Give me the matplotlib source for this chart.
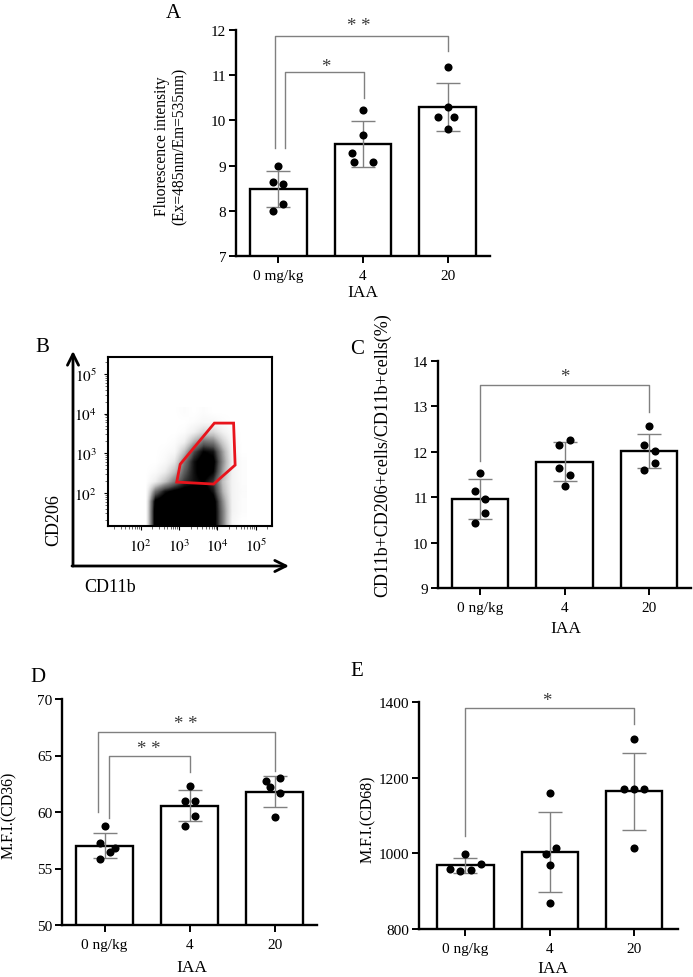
import matplotlib
matplotlib.use('Agg')
import matplotlib.pyplot as plt
from matplotlib.patches import Polygon
import numpy as np

plt.rcParams['font.family'] = ['Liberation Serif', 'DejaVu Serif']
plt.rcParams['mathtext.fontset'] = 'stix'

# ---------------- data ----------------
categories_a = ['0 mg/kg', '4', '20']
categories = ['0 ng/kg', '4', '20']

# Panel A: fluorescence intensity
a_means = [8.49, 9.48, 10.29]
a_sd = [0.40, 0.50, 0.53]
a_points = [[9.00, 8.63, 8.60, 8.15, 7.99],
            [10.24, 9.68, 9.27, 9.07, 9.07],
            [11.18, 10.29, 10.07, 10.07, 9.81]]

# Panel C: CD11b+CD206+ / CD11b+ (%)
c_means = [10.96, 11.78, 12.02]
c_sd = [0.43, 0.43, 0.37]
c_points = [[11.53, 11.13, 10.95, 10.66, 10.43],
            [12.14, 12.25, 11.64, 11.50, 11.24],
            [12.56, 12.16, 12.01, 11.76, 11.59]]

# Panel D: M.F.I. (CD36)
d_means = [57.02, 60.56, 61.80]
d_sd = [1.10, 1.40, 1.37]
d_points = [[58.79, 57.23, 56.81, 56.46, 55.84],
            [62.33, 61.00, 61.00, 59.68, 58.79],
            [62.70, 63.00, 62.18, 61.65, 59.59]]

# Panel E: M.F.I. (CD68)
e_means = [968, 1003, 1164]
e_sd = [20, 105, 102]
e_points = [[998, 959, 952, 957, 972],
            [1160, 997, 1014, 968, 868],
            [1303, 1169, 1169, 1171, 1015]]

# Panel B: flow cytometry event density (log10 units), rows bottom -> top
b_x_range = [2.0, 4.75]
b_y_range = [1.15, 4.15]
b_density = [
    [0, 0.95, 1, 1, 1, 1, 1, 0.95, 0.50, 0.06, 0],
    [0, 0.95, 1, 1, 1, 1, 1, 0.95, 0.50, 0.08, 0.02],
    [0, 0.90, 1, 1, 1, 1, 1, 0.95, 0.45, 0.08, 0.02],
    [0, 0.55, 0.80, 0.90, 0.95, 0.95, 0.95, 0.80, 0.35, 0.08, 0.03],
    [0, 0.12, 0.30, 0.50, 0.70, 0.80, 0.85, 0.70, 0.30, 0.08, 0.02],
    [0, 0.03, 0.12, 0.30, 0.60, 0.80, 0.95, 0.85, 0.40, 0.08, 0.02],
    [0, 0, 0.04, 0.15, 0.50, 0.80, 0.95, 0.90, 0.45, 0.10, 0.02],
    [0, 0, 0.02, 0.05, 0.30, 0.65, 0.85, 0.80, 0.40, 0.08, 0],
    [0, 0, 0, 0.02, 0.10, 0.35, 0.55, 0.50, 0.25, 0.05, 0],
    [0, 0, 0, 0, 0.02, 0.10, 0.22, 0.22, 0.10, 0.02, 0],
    [0, 0, 0, 0, 0, 0.02, 0.05, 0.05, 0.02, 0, 0],
    [0, 0, 0, 0, 0.02, 0, 0.02, 0, 0, 0, 0],
]
b_gate_x = [3.03, 3.92, 4.42, 4.46, 3.90, 2.94]
b_gate_y = [2.72, 3.76, 3.76, 2.70, 2.22, 2.27]
b_ticks = [2, 3, 4, 5]
b_tick_labels = [r'$10^{2}$', r'$10^{3}$', r'$10^{4}$', r'$10^{5}$']

# ---------------- style / layout ----------------
W, H = 693, 978
fig = plt.figure(figsize=(W / 100, H / 100), dpi=100)


def rect(l, t, r, b):
    return [l / W, 1 - b / H, (r - l) / W, (b - t) / H]


jit_a = [[0, -0.06, 0.06, 0.06, -0.065], [0, 0, -0.125, -0.11, 0.12], [0, 0, -0.12, 0.07, 0]]
jit_c = [[0, -0.067, 0.06, 0.06, -0.06], [-0.06, 0.06, -0.06, 0.06, 0], [0, -0.06, 0.07, 0.07, -0.06]]
jit_d = [[0, -0.05, 0.12, 0.07, -0.05], [0, -0.05, 0.07, 0.07, -0.05], [-0.1, 0.07, -0.05, 0.07, 0]]
jit_e = [[0, -0.18, -0.06, 0.07, 0.19], [0, -0.05, 0.07, 0, 0], [0, -0.12, 0, 0.12, 0]]

GRAY = '#808080'


def bar_panel(rect_, means, sd, points, jit, ylim, yticks, cats, xlim=(-0.5, 2.5)):
    ax = fig.add_axes(rect_)
    x = np.arange(len(means))
    ax.bar(x, means, width=0.67, color='white', edgecolor='black', linewidth=1.7, zorder=2)
    ax.errorbar(x, means, yerr=sd, fmt='none', ecolor=GRAY, elinewidth=1.0,
                capsize=8.5, capthick=1.0, zorder=3)
    for i, pts in enumerate(points):
        ax.scatter(i + np.array(jit[i]), pts, s=34, color='black', zorder=4, linewidths=0)
    ax.set_xlim(*xlim)
    ax.set_ylim(*ylim)
    ax.set_yticks(yticks)
    ax.set_xticks(x)
    ax.set_xticklabels(cats)
    for s in ['top', 'right']:
        ax.spines[s].set_visible(False)
    for s in ['left', 'bottom']:
        ax.spines[s].set_linewidth(1.7)
    ax.tick_params(axis='both', direction='out', length=5, width=1.4, labelsize=11)
    ax.tick_params(axis='x', pad=4.5)
    ax.tick_params(axis='y', pad=2)
    ax.patch.set_visible(False)
    return ax


def bracket(ax, xl, xr, ytop, yl, yr, label, lx, ly, fs=13.5):
    ax.plot([xl, xl, xr, xr], [yl, ytop, ytop, yr], color=GRAY, lw=1.0, clip_on=False, zorder=5)
    ax.text(lx, ly, label, ha='center', va='center', fontsize=fs, color='#3a3a3a', clip_on=False)


# Panel A
axA = bar_panel(rect(236, 31, 490, 257), a_means, a_sd, a_points, jit_a, (7, 12),
                [7, 8, 9, 10, 11, 12], categories_a)
bracket(axA, -0.04, 2.0, 11.87, 9.4, 11.54, '* *', 0.95, 12.1)
bracket(axA, 0.08, 1.01, 11.06, 9.4, 10.5, '*', 0.56, 11.2)

# Panel C
axC = bar_panel(rect(438, 362, 691, 589), c_means, c_sd, c_points, jit_c, (9, 14),
                [9, 10, 11, 12, 13, 14], categories)
bracket(axC, 0.0, 2.0, 13.48, 11.79, 12.88, '*', 1.0, 13.66)

# Panel D
axD = bar_panel(rect(62, 700, 317, 926), d_means, d_sd, d_points, jit_d, (50, 70),
                [50, 55, 60, 65, 70], categories)
bracket(axD, -0.08, 2.0, 67.1, 60.03, 63.66, '* *', 0.95, 67.8)
bracket(axD, 0.05, 1.0, 65.0, 59.5, 63.5, '* *', 0.52, 65.65)

# Panel E
axE = bar_panel(rect(419, 703, 678, 930), e_means, e_sd, e_points, jit_e, (800, 1400),
                [800, 1000, 1200, 1400], categories, xlim=(-0.55, 2.52))
bracket(axE, 0.0, 2.0, 1384, 1045, 1343, '*', 0.97, 1403)

# Panel B
axB = fig.add_axes(rect(108, 358, 272, 527))
axB.imshow(np.array(b_density), extent=(b_x_range[0], b_x_range[1], b_y_range[0], b_y_range[1]),
           origin='lower', cmap='Greys', vmin=0, vmax=0.85, interpolation='bilinear',
           aspect='auto', zorder=1)
axB.add_patch(Polygon(list(zip(b_gate_x, b_gate_y)), closed=True, fill=False,
                      edgecolor='#e8141c', lw=2.0, zorder=3))
axB.set_xlim(1.15, 5.42)
axB.set_ylim(1.16, 5.43)
axB.set_xticks(b_ticks)
axB.set_xticklabels(b_tick_labels)
axB.set_yticks(b_ticks)
axB.set_yticklabels(b_tick_labels)
minors = [d + np.log10(k) for d in [1, 2, 3, 4, 5] for k in range(2, 10)]
axB.set_xticks([m for m in minors if 1.15 < m < 5.42], minor=True)
axB.set_yticks([m for m in minors if 1.16 < m < 5.43], minor=True)
axB.tick_params(axis='both', which='major', direction='out', length=3, width=0.8,
                labelsize=11, pad=5)
axB.tick_params(axis='both', which='minor', direction='out', length=2, width=0.6, color='#555555')
for s in axB.spines.values():
    s.set_linewidth(1.5)

# Overlay for figure-level annotations (pixel coordinates)
ov = fig.add_axes([0, 0, 1, 1])
ov.set_xlim(0, W)
ov.set_ylim(H, 0)
ov.axis('off')
ov.patch.set_visible(False)

ov.annotate('', xy=(73, 352), xytext=(73, 567),
            arrowprops=dict(arrowstyle='->', lw=2, color='black', mutation_scale=20,
                            shrinkA=0, shrinkB=0))
ov.annotate('', xy=(289, 567), xytext=(72, 567),
            arrowprops=dict(arrowstyle='->', lw=2, color='black', mutation_scale=20,
                            shrinkA=0, shrinkB=0))
ov.text(54, 520, 'CD206', rotation=90, ha='center', va='center', fontsize=13)
ov.text(110, 587, 'CD11b', ha='center', va='center', fontsize=13)

# Panel letters
for lab, (px, py) in {'A': (173, 13), 'B': (42, 348), 'C': (357, 350),
                      'D': (38, 677), 'E': (357, 672)}.items():
    ov.text(px, py, lab, ha='center', va='center', fontsize=15)

# Axis titles
ov.text(171, 146, 'Fluorescence intensity\n(Ex=485nm/Em=535nm)', rotation=90,
        ha='center', va='center', fontsize=11.2, linespacing=1.1)
ov.text(383, 455, 'CD11b+CD206+cells/CD11b+cells(%)', rotation=90,
        ha='center', va='center', fontsize=13)
ov.text(9, 815, 'M.F.I.(CD36)', rotation=90, ha='center', va='center', fontsize=11.5)
ov.text(368, 819, 'M.F.I.(CD68)', rotation=90, ha='center', va='center', fontsize=11.5)
for px, py in [(363, 293), (566, 629), (192, 968), (553, 969)]:
    ov.text(px, py, 'IAA', ha='center', va='center', fontsize=12.5)

fig.savefig('out.png', dpi=100)
